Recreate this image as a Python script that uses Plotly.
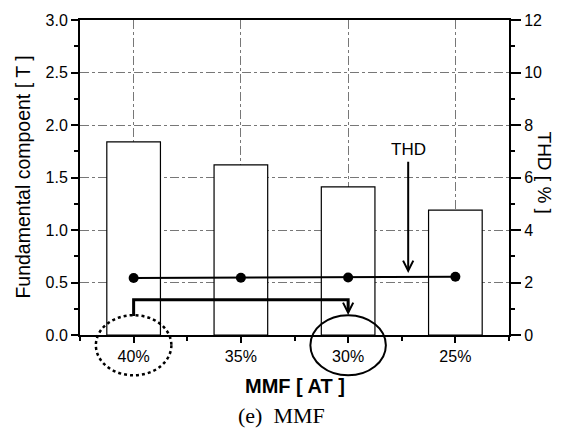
import plotly.graph_objects as go

categories = ["40%", "35%", "30%", "25%"]
fundamental = [1.84, 1.62, 1.41, 1.19]
thd = [2.17, 2.18, 2.19, 2.22]

xpos = list(range(len(categories)))
FONT = "Liberation Sans, Arial, sans-serif"

fig = go.Figure()
fig.add_trace(go.Bar(x=xpos, y=fundamental, width=0.5,
                     marker=dict(color="white", line=dict(color="black", width=1.2)),
                     yaxis="y", showlegend=False))
fig.add_trace(go.Scatter(x=xpos, y=thd, mode="lines+markers", yaxis="y2",
                         line=dict(color="black", width=2),
                         marker=dict(color="black", size=10), showlegend=False))

grid = dict(showgrid=True, gridcolor="#777", griddash="dashdot", gridwidth=1)

fig.update_layout(
    width=572, height=430,
    margin=dict(l=80, r=63, t=16, b=95),
    paper_bgcolor="white", plot_bgcolor="white",
    font=dict(family=FONT, size=16, color="black"),
    xaxis=dict(range=[-0.5, 3.5], tickvals=xpos, ticktext=categories,
               ticks="outside", ticklen=6, tickwidth=1.5, tickcolor="black",
               minor=dict(dtick=0.5, tick0=0.5, ticks="outside", ticklen=4, tickcolor="black"),
               showline=True, linecolor="black", linewidth=2, mirror=True,
               zeroline=False, **grid),
    yaxis=dict(range=[0, 3.0], dtick=0.5, tickformat=".1f",
               ticks="outside", ticklen=7, tickwidth=1.5, tickcolor="black",
               minor=dict(dtick=0.25, ticks="outside", ticklen=4, tickcolor="black"),
               showline=True, linecolor="black", linewidth=2,
               zeroline=False, **grid),
    yaxis2=dict(range=[0, 12], dtick=2, overlaying="y", side="right",
                ticks="outside", ticklen=10, tickwidth=1.5, tickcolor="black",
                minor=dict(dtick=1, ticks="outside", ticklen=4, tickcolor="black"),
                showline=True, linecolor="black", linewidth=2,
                showgrid=False, zeroline=False),
)

# bracket arrow from 40% to 30%
y_low, y_high, y_tip = 0.18, 0.336, 0.19
fig.add_shape(type="path", xref="x", yref="y",
              path=f"M {xpos[0]},{y_low} L {xpos[0]},{y_high} L {xpos[2]},{y_high} L {xpos[2]},{y_tip+0.05}",
              line=dict(color="black", width=3))
fig.add_annotation(x=xpos[2], y=y_tip, ax=xpos[2], ay=y_high, xref="x", yref="y",
                   axref="x", ayref="y", showarrow=True, arrowhead=5, arrowsize=1,
                   arrowwidth=2, arrowcolor="black", text="")

# THD arrow
fig.add_annotation(x=2.56, y=0.59, ax=2.56, ay=1.665, xref="x", yref="y",
                   axref="x", ayref="y", showarrow=True, arrowhead=5, arrowsize=1,
                   arrowwidth=2, arrowcolor="black", text="")
fig.add_annotation(x=2.56, y=1.77, xref="x", yref="y", text="THD", showarrow=False,
                   font=dict(size=17, family=FONT))

# ellipses around labels
def ell(cat, dash, w):
    cx = (cat + 0.5) / 4
    fig.add_shape(type="circle", xref="paper", yref="paper",
                  x0=cx - 0.088, x1=cx + 0.088, y0=-0.128, y1=0.063,
                  line=dict(color="black", width=w, dash=dash))
ell(0, "dot", 2.5)
ell(2, "solid", 2)

# axis titles
fig.add_annotation(x=-0.135, y=0.5, xref="paper", yref="paper", text="Fundamental compoent [ T ]",
                   textangle=-90, showarrow=False, font=dict(size=19.5, family=FONT), xanchor="center")
fig.add_annotation(x=1.083, y=0.517, xref="paper", yref="paper", text="THD [ % ]",
                   textangle=90, showarrow=False, font=dict(size=19, family=FONT), xanchor="center")
fig.add_annotation(x=0.5, y=-0.163, xref="paper", yref="paper", text="<b>MMF [ AT ]</b>",
                   showarrow=False, font=dict(size=20, family=FONT), yanchor="middle")
fig.add_annotation(x=0.469, y=-0.256, xref="paper", yref="paper", text="(e)  MMF",
                   showarrow=False, font=dict(size=22, family="Liberation Serif, serif"), yanchor="middle")

fig.write_html("out.html")
